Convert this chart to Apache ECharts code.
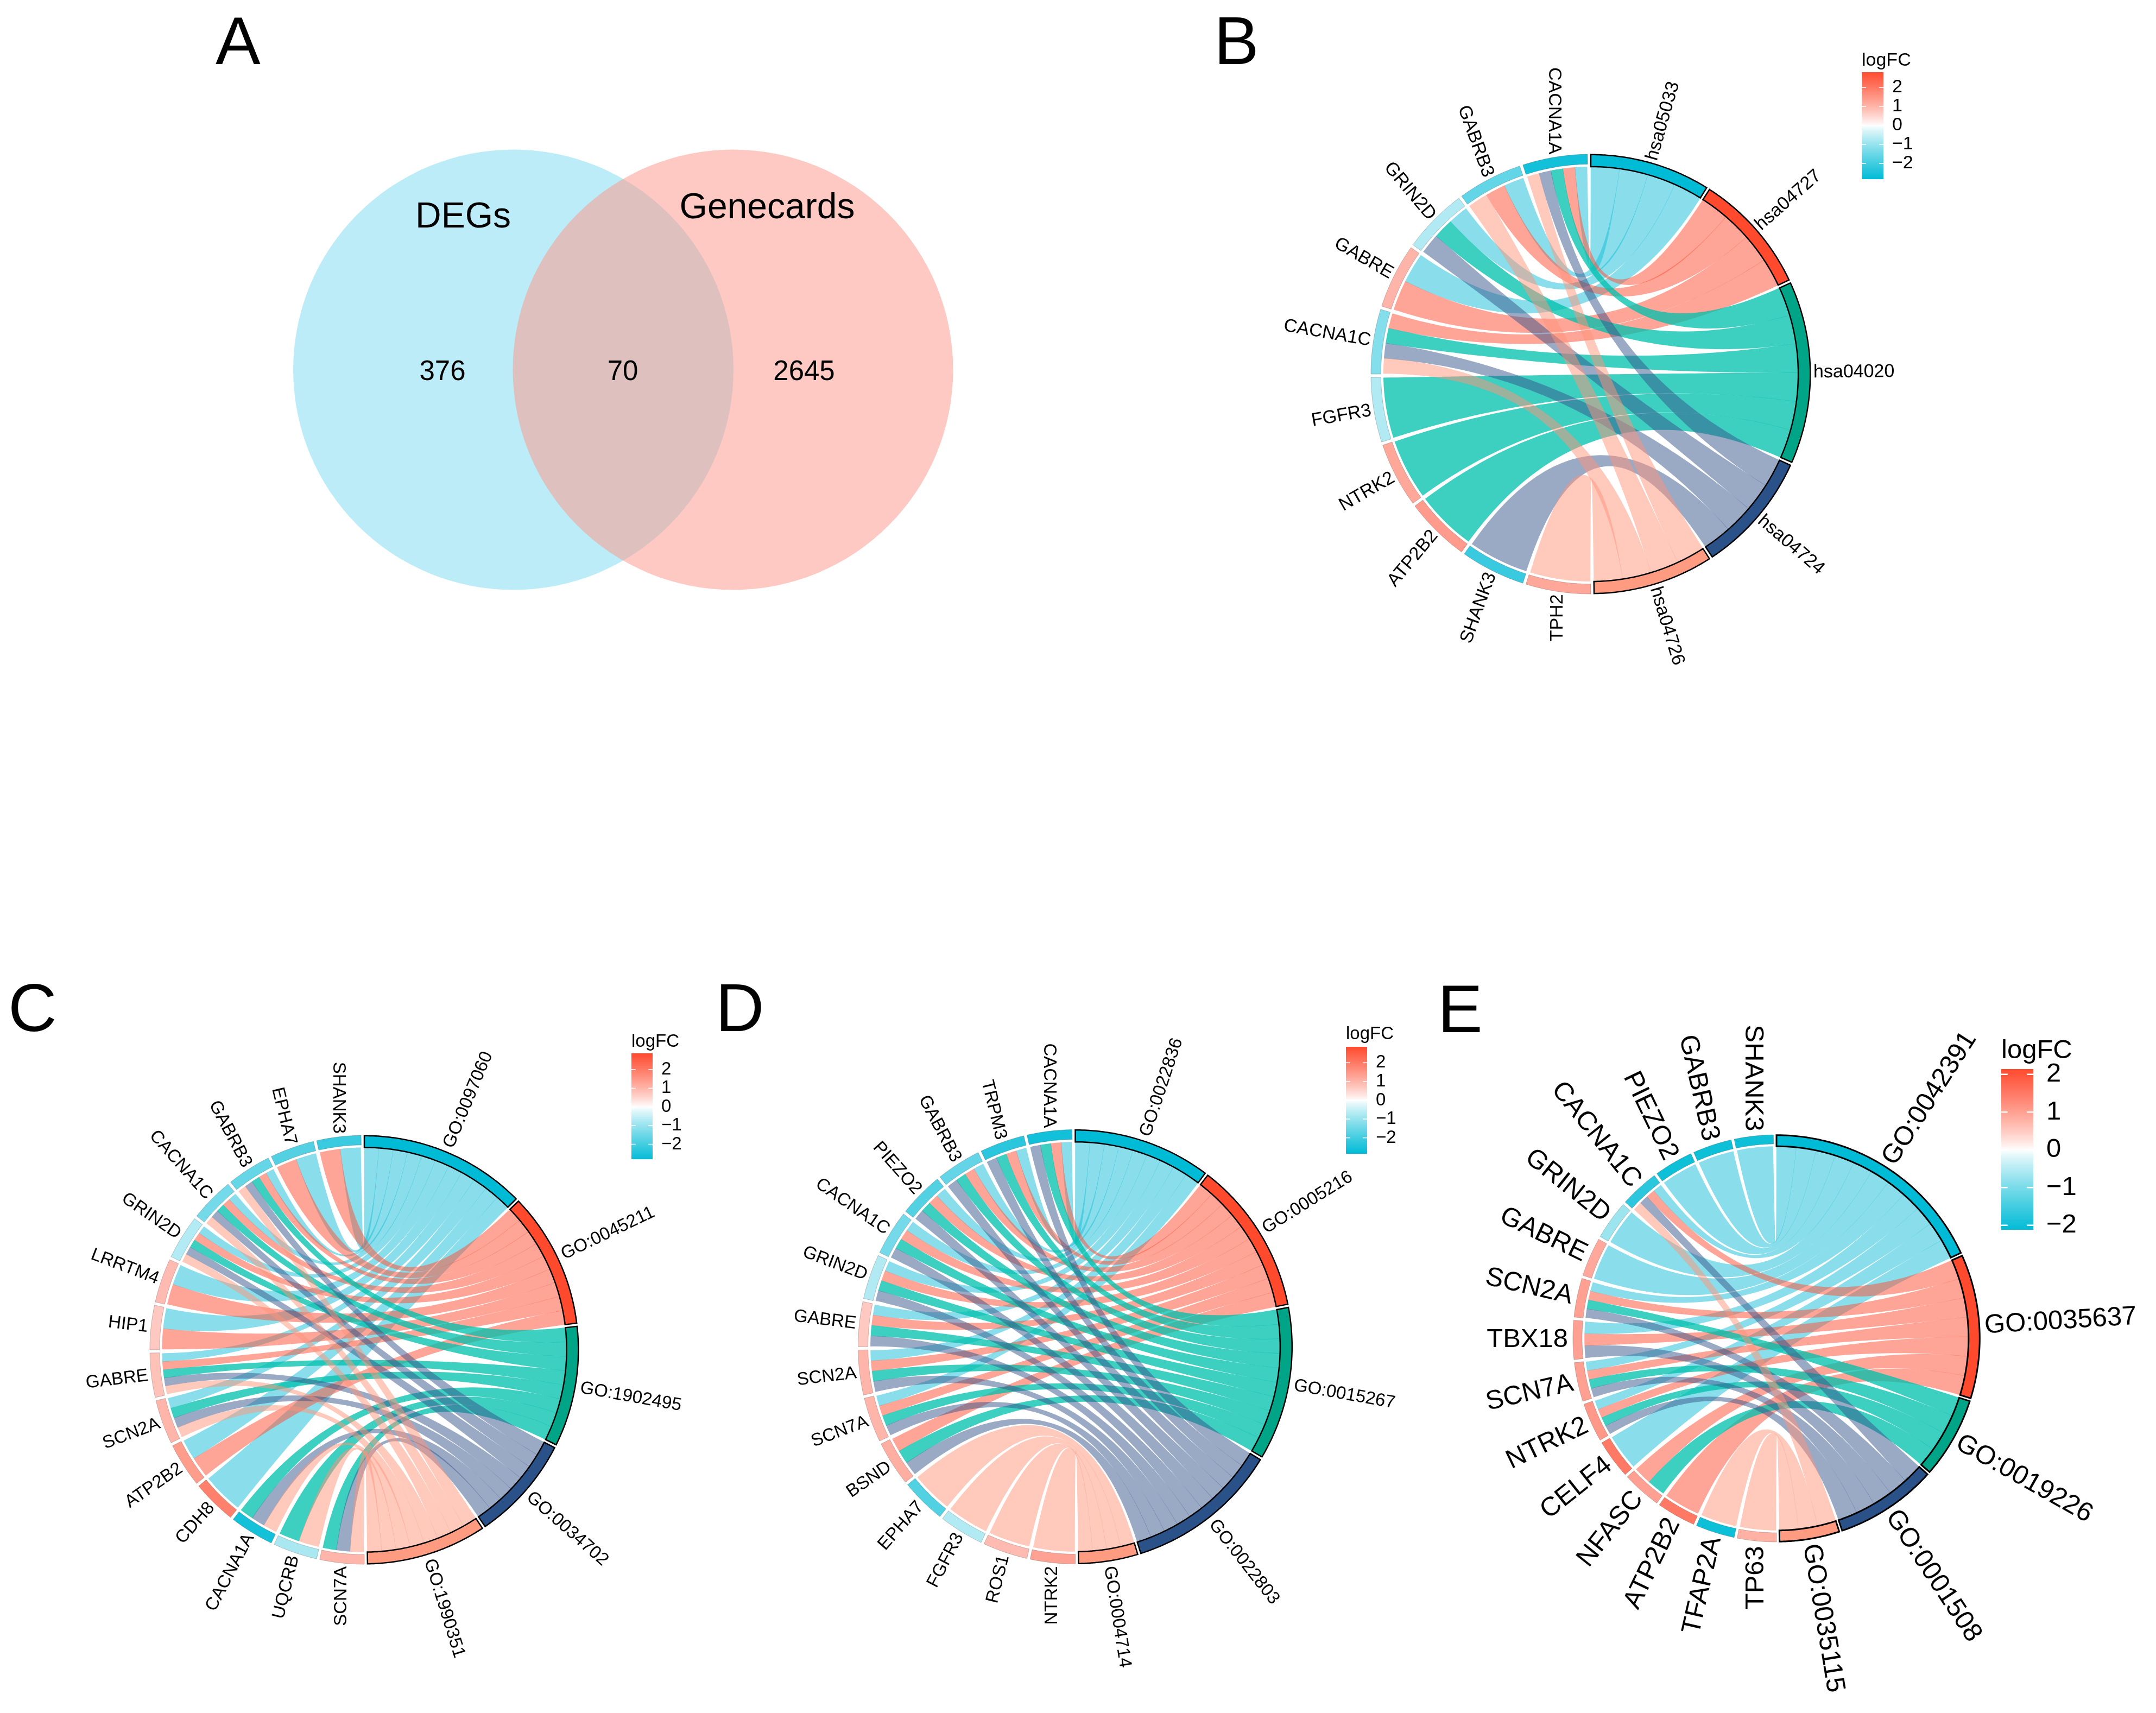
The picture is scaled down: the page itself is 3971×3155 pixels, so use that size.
<!DOCTYPE html>
<html><head><meta charset="utf-8">
<style>html,body{margin:0;padding:0;background:#fff}#c{width:3971px;height:3155px}</style>
<script src="https://cdn.jsdelivr.net/npm/echarts@6/dist/echarts.min.js"></script>
</head><body><div id="c"></div>
<script>
// ---------- Venn data
const vennNames = ['DEGs', 'Genecards'];
const vennCounts = [376, 70, 2645];

// ---------- Panel B
const bTerms = ['hsa05033','hsa04727','hsa04020','hsa04724','hsa04726'];
const bGenes = ['CACNA1A','GABRB3','GRIN2D','GABRE','CACNA1C','FGFR3','NTRK2','ATP2B2','SHANK3','TPH2'];
const bLogFC = [-2.6,-1.6,-0.7,1.0,-1.2,-0.7,1.2,1.4,-2.1,1.2];
const bLinks = [[0,1,2,3,4],[0,1,4],[0,2,3],[0,1],[1,2,3,4],[2],[2],[2],[3],[4]];
// ---------- Panel C
const cTerms = ['GO:0097060','GO:0045211','GO:1902495','GO:0034702','GO:1990351'];
const cGenes = ['SHANK3','EPHA7','GABRB3','CACNA1C','GRIN2D','LRRTM4','HIP1','GABRE','SCN2A','ATP2B2','CDH8','CACNA1A','UQCRB','SCN7A'];
const cLogFC = [-2.1,-1.8,-1.6,-1.4,-0.7,0.9,0.7,0.8,1.0,1.4,1.9,-2.6,-0.8,1.0];
const cLinks = [[0,1],[0,1],[0,1,2,3,4],[0,1,2,3,4],[0,1,2,3,4],[0,1],[0,1],[0,1,2,3,4],[0,2,3,4],[0,1],[0],[2,3,4],[2,4],[2,3,4]];
// ---------- Panel D
const dTerms = ['GO:0022836','GO:0005216','GO:0015267','GO:0022803','GO:0004714'];
const dGenes = ['CACNA1A','TRPM3','GABRB3','PIEZO2','CACNA1C','GRIN2D','GABRE','SCN2A','SCN7A','BSND','EPHA7','FGFR3','ROS1','NTRK2'];
const dLogFC = [-2.6,-2.3,-1.6,-1.8,-1.4,-0.7,0.7,1.0,1.0,1.1,-1.8,-0.7,0.9,1.3];
const dLinks = [[0,1,2,3],[0,1,2,3],[0,1,2,3],[0,1,2,3],[0,1,2,3],[0,1,2,3],[0,1,2,3],[0,1,2,3],[0,1,2,3],[1,2,3],[4],[4],[4],[4]];
// ---------- Panel E
const eTerms = ['GO:0042391','GO:0035637','GO:0019226','GO:0001508','GO:0035115'];
const eGenes = ['SHANK3','GABRB3','PIEZO2','CACNA1C','GRIN2D','GABRE','SCN2A','TBX18','SCN7A','NTRK2','CELF4','NFASC','ATP2B2','TFAP2A','TP63'];
const eLogFC = [-2.0,-2.0,-2.0,-1.7,-0.7,0.9,1.0,1.0,1.0,1.1,1.5,1.0,1.5,-2.0,0.8];
const eLinks = [[0],[0],[0],[0,1,3,4],[0],[0],[0,1,2,3],[0,1,3],[0,1,2,3],[0,1,2,3],[0],[1,2],[1],[4],[4]];
// ---------- Colour bar ticks
const legendTicks = [-2,-1,0,1,2];

// ---------- Styles and layout
const FONT = '"Liberation Sans", Arial, sans-serif';
const termFill = ['#00BBD6','#FF4A2E','#00A487','#2A5289','#FF9B80'];
const ribbonFill = ['rgba(21,189,215,.5)','rgba(255,75,49,.5)','rgba(0,192,172,.76)','rgba(53,83,137,.5)','rgba(255,147,121,.5)'];
const LOW = [0,187,214], HIGH = [255,74,46];
const OUTER = 1.06, GENE_IN = 1.012, SPACE = 0.015, EPS = 0.0008, GENE_INSET = 0.003;

const panels = [
 {terms:bTerms,genes:bGenes,lfc:bLogFC,links:bLinks,cx:2930,cy:689,R:405,font:34,geneGap:5,termGap:5,border:2.5,
  bar:{x:3429,y:133,w:40,h:197,min:-2.83,max:2.8,gap:16,titleY:114}},
 {terms:cTerms,genes:cGenes,lfc:cLogFC,links:cLinks,cx:671,cy:2486,R:395,font:33,geneGap:6,termGap:9,border:2.5,
  bar:{x:1163,y:1940,w:39,h:195,min:-2.8,max:2.87,gap:16,titleY:1921}},
 {terms:dTerms,genes:dGenes,lfc:dLogFC,links:dLinks,cx:1980.5,cy:2480.5,R:400,font:33,geneGap:6,termGap:9,border:2.5,
  bar:{x:2479,y:1928,w:39,h:197,min:-2.85,max:2.85,gap:16,titleY:1907}},
 {terms:eTerms,genes:eGenes,lfc:eLogFC,links:eLinks,cx:3272,cy:2465,R:375,font:49,geneGap:9,termGap:9,border:3,
  bar:{x:3686,y:1969,w:59,h:296,min:-2.12,max:2.14,gap:24,titleY:1939}}
];

function lfcColor(v, limit){
  const t = Math.pow(Math.min(Math.abs(v)/limit,1), 0.85);
  const e = v < 0 ? LOW : HIGH;
  return 'rgb(' + e.map(c => Math.round(255 + (c-255)*t)).join(',') + ')';
}
function layoutPanel(p){
  const N = p.genes.length;
  const counts = p.terms.map((_,j) => p.links.filter(l => l.includes(j)).length);
  const total = counts.reduce((a,b)=>a+b,0);
  const terms = []; let a = 0;
  counts.forEach(n => { const w = Math.PI*n/total; terms.push({a0:a,a1:a+w-SPACE,n}); a += w; });
  const genes = p.genes.map((_,i)=>({a0:-SPACE-i*Math.PI/N, a1:-SPACE-i*Math.PI/N-Math.PI/N+SPACE}));
  const used = terms.map(()=>0), ribbons = [];
  p.links.forEach((l,i)=>{
    const g = genes[i], ga0 = g.a0-GENE_INSET, ga1 = g.a1+GENE_INSET, gw = (ga1-ga0)/l.length;
    l.forEach((j,k)=>{
      const t = terms[j], tw = (t.a1-t.a0)/t.n;
      ribbons.push({gene:i,term:j,g0:ga0+gw*k,g1:ga0+gw*(k+1),t0:t.a0+tw*used[j],t1:t.a0+tw*(used[j]+1)});
      used[j]++;
    });
  });
  ribbons.sort((x,y)=>x.term-y.term || x.gene-y.gene);
  return {terms,genes,ribbons};
}
const pol = (r,a)=>[r*Math.sin(a), r*Math.cos(a)];
function arcPts(r,a0,a1,n){ const o=[]; for(let i=0;i<=n;i++) o.push(pol(r,a0+(a1-a0)*i/n)); return o; }
function bez(s,e,n){ const o=[]; for(let i=0;i<=n;i++){const t=i/n,a=(1-t)*(1-t),b=t*t; o.push([a*s[0]+b*e[0],a*s[1]+b*e[1]]);} return o; }

const grid=[], xAxis=[], yAxis=[], series=[], graphic=[];
function addAxes(left,top,w,h,x,y,extraY){
  const gi=grid.length;
  grid.push({left,top,width:w,height:h,containLabel:false});
  xAxis.push({type:'value',gridIndex:gi,min:x[0],max:x[1],show:false});
  yAxis.push(Object.assign({type:'value',gridIndex:gi,min:y[0],max:y[1],show:false},extraY||{}));
  return gi;
}

// Venn
const vg = addAxes(0,0,2000,1200,[0,2000],[0,1200],{inverse:true});
const vennCircle = [[945.5,681],[1350,681]];
const vennTextAt = [[853,401],[1413,384],[815,686],[1147,686],[1481,686]];
const vennText = vennNames.concat(vennCounts.map(String));
series.push({type:'scatter',xAxisIndex:vg,yAxisIndex:vg,data:[vennCircle[0]],symbol:'circle',symbolSize:811,silent:true,
  itemStyle:{color:'#BCECF7',opacity:1},animation:false,z:1});
series.push({type:'scatter',xAxisIndex:vg,yAxisIndex:vg,data:[vennCircle[1]],symbol:'circle',symbolSize:811,silent:true,
  itemStyle:{color:'rgba(255,147,135,.5)',opacity:1},animation:false,z:2});
series.push({type:'custom',coordinateSystem:'cartesian2d',xAxisIndex:vg,yAxisIndex:vg,silent:true,animation:false,z:3,clip:false,
  data:vennTextAt,renderItem:(params,api)=>{
    const i=params.dataIndex,c=api.coord([api.value(0),api.value(1)]);
    return {type:'text',x:c[0],y:c[1],style:{x:0,y:0,text:vennText[i],fill:'#000',
      font:(i<2?66:51)+'px '+FONT,align:'center',verticalAlign:'middle'}};
  }});

// Chord panels
panels.forEach(p=>{
  const L = layoutPanel(p), limit = Math.max(p.bar.max,-p.bar.min);
  const gi = addAxes(p.cx-p.R,p.cy-p.R,2*p.R,2*p.R,[-OUTER,OUTER],[-OUTER,OUTER]);
  const unit = p.R/OUTER;
  const base = {type:'custom',coordinateSystem:'cartesian2d',xAxisIndex:gi,yAxisIndex:gi,animation:false,silent:true,clip:false};
  const toPts=(api,pts)=>pts.map(q=>api.coord(q));
  series.push(Object.assign({},base,{z:3,data:L.ribbons.map(r=>[r.gene,r.term]),
    renderItem:(params,api)=>{
      const r=L.ribbons[params.dataIndex];
      const g0=r.g0+EPS,g1=r.g1-EPS,t0=r.t0-EPS,t1=r.t1+EPS;
      const top=bez(pol(1,g0),pol(1,t0),60), bot=bez(pol(1,g1),pol(1,t1),60).reverse();
      const pts=top.concat(arcPts(1,t0,t1,8),bot,arcPts(1,g1,g0,8));
      return {type:'polygon',shape:{points:toPts(api,pts)},style:{fill:ribbonFill[r.term],stroke:null}};
    }}));
  series.push(Object.assign({},base,{z:4,data:L.genes.map((g,i)=>[i,p.lfc[i]]),
    renderItem:(params,api)=>{
      const g=L.genes[params.dataIndex];
      const pts=arcPts(GENE_IN,g.a0,g.a1,24).concat(arcPts(OUTER,g.a1,g.a0,24));
      return {type:'polygon',shape:{points:toPts(api,pts)},style:{fill:lfcColor(api.value(1),limit),stroke:'rgba(50,50,50,.45)',lineWidth:0.6}};
    }}));
  series.push(Object.assign({},base,{z:5,data:L.terms.map((t,j)=>[j,t.n]),
    renderItem:(params,api)=>{
      const t=L.terms[params.dataIndex];
      const pts=arcPts(1,t.a0,t.a1,60).concat(arcPts(OUTER-0.002,t.a1,t.a0,60));
      return {type:'polygon',shape:{points:toPts(api,pts)},style:{fill:termFill[params.dataIndex],stroke:'#000',lineWidth:p.border,lineJoin:'miter'}};
    }}));
  series.push(Object.assign({},base,{z:6,data:p.genes.map((g,i)=>[i,0]),
    renderItem:(params,api)=>{
      const i=params.dataIndex,g=L.genes[i],m=(g.a0+g.a1)/2,N=p.genes.length;
      const c=api.coord(pol(OUTER+p.geneGap/unit,m));
      return {type:'text',x:c[0],y:c[1],rotation:(-90+180*i/(N-1))*Math.PI/180,
        style:{x:0,y:0,text:p.genes[i],fill:'#000',font:p.font+'px '+FONT,align:'right',verticalAlign:'middle'}};
    }}));
  series.push(Object.assign({},base,{z:6,data:p.terms.map((g,i)=>[i,0]),
    renderItem:(params,api)=>{
      const i=params.dataIndex,t=L.terms[i],m=(t.a0+t.a1)/2;
      const c=api.coord(pol(OUTER+p.termGap/unit,m));
      return {type:'text',x:c[0],y:c[1],rotation:Math.PI/2-m,
        style:{x:0,y:0,text:p.terms[i],fill:'#000',font:p.font+'px '+FONT,align:'left',verticalAlign:'middle'}};
    }}));

  // colour bar
  const b=p.bar;
  const lg = addAxes(b.x,b.y,b.w,b.h,[0,1],[b.min,b.max],{show:true,position:'right',
    axisLine:{show:false},axisTick:{show:false},splitLine:{show:false},
    axisLabel:{show:true,customValues:legendTicks,margin:b.gap,color:'#000',fontFamily:FONT,fontSize:p.font,
      formatter:v=>String(v).replace('-','\u2212')}});
  const stops=[]; for(let i=0;i<=60;i++){const v=b.max+(b.min-b.max)*i/60; stops.push({offset:i/60,color:lfcColor(v,limit)});}
  series.push({type:'custom',coordinateSystem:'cartesian2d',xAxisIndex:lg,yAxisIndex:lg,animation:false,silent:true,clip:false,z:3,
    data:[[0,b.max]],renderItem:(params,api)=>{
      const a=api.coord([0,b.max]),c=api.coord([1,b.min]);
      const kids=[{type:'rect',shape:{x:a[0],y:a[1],width:c[0]-a[0],height:c[1]-a[1]},
        style:{fill:new echarts.graphic.LinearGradient(0,0,0,1,stops)}}];
      legendTicks.forEach(v=>{
        const y=api.coord([0,v])[1],w=(c[0]-a[0])/5;
        [[a[0],a[0]+w],[c[0]-w,c[0]]].forEach(s=>kids.push({type:'line',shape:{x1:s[0],y1:y,x2:s[1],y2:y},
          style:{stroke:'#fff',lineWidth:p.font>40?2.5:1.5}}));
      });
      return {type:'group',children:kids};
    }});
  graphic.push({type:'text',left:b.x,top:b.titleY-p.font*0.57,silent:true,
    style:{text:'logFC',fill:'#000',font:p.font+'px '+FONT}});
});

// panel letters
const letterNames=['A','B','C','D','E'];
const letterAt=[[397,84],[2236,84],[15,1865],[1318,1865],[2648,1867]];
letterNames.forEach((t,i)=>graphic.push({type:'text',left:letterAt[i][0],top:letterAt[i][1]-62,silent:true,
  style:{text:t,fill:'#000',font:'124px '+FONT}}));

const chart = echarts.init(document.getElementById('c'),null,{renderer:'canvas',width:3971,height:3155});
chart.setOption({backgroundColor:'#fff',animation:false,grid,xAxis,yAxis,series,graphic});
</script></body></html>
